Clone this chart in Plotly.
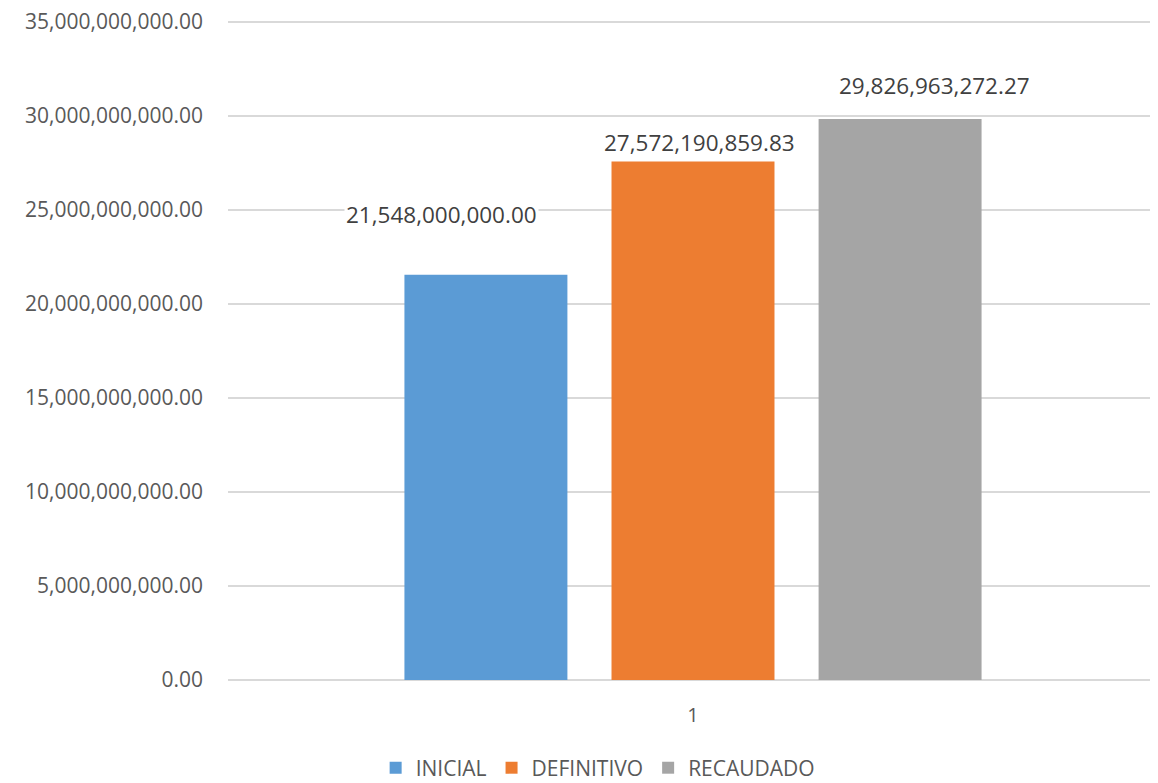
import plotly.graph_objects as go

categories = ["1"]
series_names = ["INICIAL", "DEFINITIVO", "RECAUDADO"]
series_values = [21548000000.00, 27572190859.83, 29826963272.27]
series_colors = ["#5B9BD5", "#ED7D31", "#A5A5A5"]
label_xshift = [-45, 6, 34]
label_yshift = [60, 19, 34]
tick_vals = [0, 5e9, 10e9, 15e9, 20e9, 25e9, 30e9, 35e9]
tick_text = ["0.00", "5,000,000,000.00", "10,000,000,000.00", "15,000,000,000.00",
             "20,000,000,000.00", "25,000,000,000.00", "30,000,000,000.00",
             "35,000,000,000.00"]

FONT = "Open Sans"
fig = go.Figure()
for name, val, col in zip(series_names, series_values, series_colors):
    fig.add_trace(go.Bar(x=categories, y=[val], name=name, marker_color=col,
                         marker_line_width=0))

bar_offsets = [-207, 0, 207]
for i, (name, val) in enumerate(zip(series_names, series_values)):
    fig.add_annotation(x=0, y=val, text=f"{val:,.2f}", showarrow=False,
                       xshift=bar_offsets[i] + label_xshift[i], yshift=label_yshift[i],
                       yanchor="middle", bgcolor="white",
                       font=dict(family=FONT, size=22.5, color="#404040"))

fig.update_layout(
    width=1150, height=775,
    margin=dict(l=220, r=0, t=10, b=103, autoexpand=False),
    paper_bgcolor="white", plot_bgcolor="white",
    barmode="group", bargap=0.332, bargroupgap=0.213,
    font=dict(family=FONT, size=20, color="#595959"),
    legend=dict(orientation="h", xref="paper", yref="paper",
                x=0.398, xanchor="center", y=-0.133, yanchor="middle",
                font=dict(family=FONT, size=21, color="#595959"),
                itemwidth=30, traceorder="normal"),
    xaxis=dict(showgrid=False, showline=False, ticks="", range=[-0.5, 0.5],
               automargin=False, ticklabelstandoff=21,
               tickfont=dict(size=20, color="#595959")),
    yaxis=dict(range=[0, 35.2e9], tickvals=tick_vals, ticktext=tick_text,
               showgrid=True, gridcolor="#D9D9D9", gridwidth=1.5,
               zeroline=True, zerolinecolor="#D9D9D9", zerolinewidth=1.5,
               automargin=False, ticklabelstandoff=24, ticklabeloverflow="allow",
               tickfont=dict(size=21, color="#595959")),
)
fig.write_html("out.html")
